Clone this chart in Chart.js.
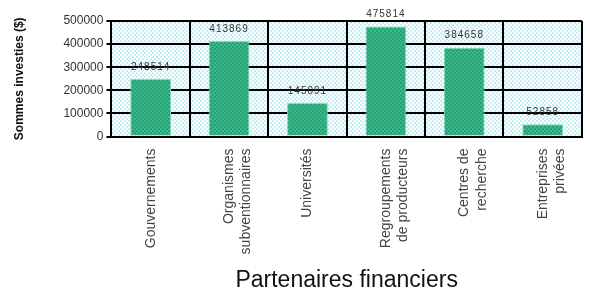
<!DOCTYPE html>
<html>
<head>
<meta charset="utf-8">
<script src="https://cdn.jsdelivr.net/npm/chart.js@4/dist/chart.umd.min.js"></script>
<style>
  html, body { margin: 0; padding: 0; background: #fff; }
  #wrap { width: 590px; height: 294px; }
</style>
</head>
<body>
<div id="wrap"><canvas id="partenaires" width="590" height="294"></canvas></div>
<script>
// catégories et montants
const categories = [
  ['Gouvernements'],
  ['Organismes', 'subventionnaires'],
  ['Universités'],
  ['Regroupements', 'de producteurs'],
  ['Centres de', 'recherche'],
  ['Entreprises', 'privées']
];
const sommes = [248514, 413869, 145091, 475814, 384658, 52858];
const yTicks = [0, 100000, 200000, 300000, 400000, 500000];

const FONT = "'Liberation Sans', Arial, sans-serif";

// petit motif quadrillé pour le fond et pour les barres
function makePattern(c1, c2, size) {
  const cv = document.createElement('canvas');
  cv.width = size * 2; cv.height = size * 2;
  const g = cv.getContext('2d');
  g.fillStyle = c1; g.fillRect(0, 0, size * 2, size * 2);
  g.fillStyle = c2;
  g.fillRect(0, 0, size, size);
  g.fillRect(size, size, size, size);
  return g.createPattern(cv, 'repeat');
}

const ctx = document.getElementById('partenaires').getContext('2d');
const fondPattern = makePattern('#ffffff', '#c8edf2', 2);
const barPattern = makePattern('#27a276', '#3bb98a', 2);

// fond quadrillé de la zone de tracé
const plotBackground = {
  id: 'plotBackground',
  beforeDraw(chart) {
    const { ctx, chartArea: a } = chart;
    ctx.save();
    ctx.fillStyle = fondPattern;
    ctx.fillRect(a.left, a.top, a.right - a.left, a.bottom - a.top);
    ctx.restore();
  }
};

// valeurs au-dessus des barres
const valueLabels = {
  id: 'valueLabels',
  afterDatasetsDraw(chart) {
    const { ctx } = chart;
    const meta = chart.getDatasetMeta(0);
    ctx.save();
    ctx.font = '10px ' + FONT;
    ctx.letterSpacing = '1px';
    ctx.fillStyle = '#333';
    ctx.textAlign = 'center';
    ctx.textBaseline = 'bottom';
    meta.data.forEach((bar, i) => {
      ctx.fillText(String(sommes[i]), bar.x, bar.y - 7);
    });
    ctx.restore();
  }
};

new Chart(ctx, {
  type: 'bar',
  data: {
    labels: categories,
    datasets: [{
      data: sommes,
      backgroundColor: barPattern,
      borderColor: '#86dcb8',
      borderWidth: 1,
      barPercentage: 0.52,
      categoryPercentage: 1
    }]
  },
  options: {
    responsive: false,
    animation: false,
    layout: { padding: { left: 12, right: 4, top: 21, bottom: 0 } },
    plugins: {
      legend: { display: false },
      tooltip: { enabled: false },
      title: {
        display: true,
        position: 'bottom',
        fullSize: false,
        text: 'Partenaires financiers',
        color: '#111',
        font: { family: FONT, size: 23, weight: 'normal' },
        padding: { top: 0, bottom: 0 }
      }
    },
    scales: {
      x: {
        grid: { color: '#000', lineWidth: 2, offset: true, drawTicks: false },
        border: { color: '#000', width: 2 },
        ticks: {
          color: '#444',
          font: { family: FONT, size: 14, lineHeight: 1.25 },
          minRotation: 90,
          maxRotation: 90,
          padding: 12,
          autoSkip: false
        }
      },
      y: {
        min: 0,
        max: 500000,
        afterBuildTicks(scale) { scale.ticks = yTicks.map(v => ({ value: v })); },
        grid: { color: '#000', lineWidth: 2, tickLength: 5 },
        border: { color: '#000', width: 2 },
        ticks: {
          color: '#333',
          font: { family: FONT, size: 12 },
          padding: 3,
          callback: v => String(v)
        },
        title: {
          display: true,
          text: 'Sommes investies ($)',
          color: '#111',
          font: { family: FONT, size: 12, weight: 'bold' },
          padding: { top: 0, bottom: 34 }
        }
      }
    }
  },
  plugins: [plotBackground, valueLabels]
});
</script>
</body>
</html>
